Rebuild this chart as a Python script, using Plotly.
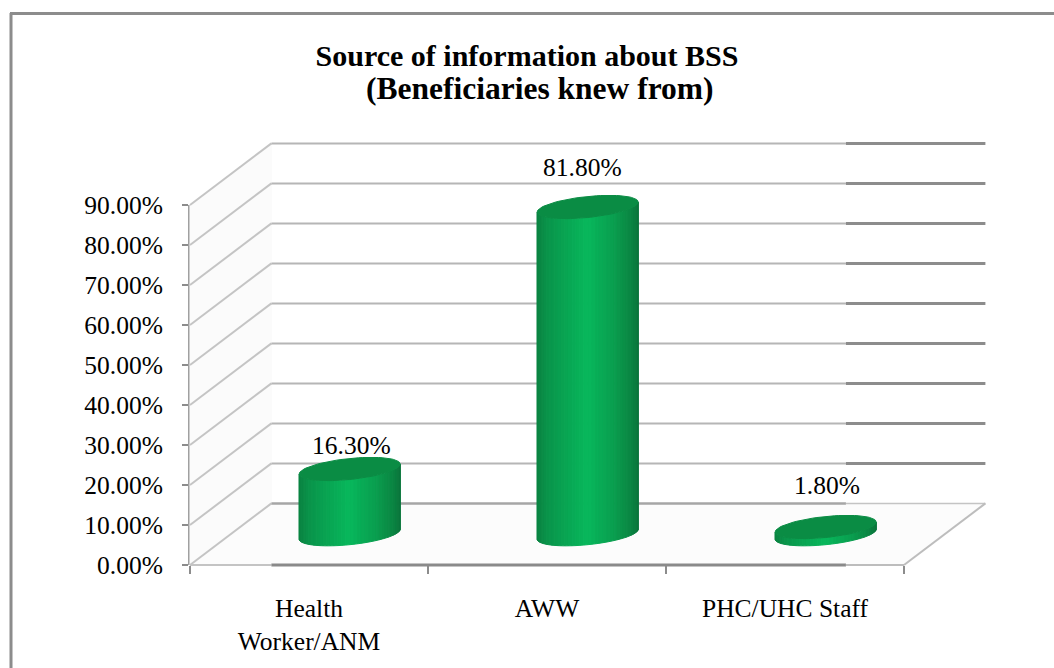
import numpy as np
import plotly.graph_objects as go

categories = ["Health<br>Worker/ANM", "AWW", "PHC/UHC Staff"]
values = [16.3, 81.8, 1.8]
y_ticks = [0, 10, 20, 30, 40, 50, 60, 70, 80, 90]
title_line_1 = "<b>Source of information about BSS</b>"
title_line_2 = "<b>(Beneficiaries knew from)</b>"

W, H = 1054, 668
L, RIGHT, TOP, BOTTOM = 190, 904, 205, 565
FONT = "Liberation Serif"
PXX = (RIGHT - L) / 3.0
PXY = (BOTTOM - TOP) / 90.0
TXT = 25.5

# oblique projection of the 3-D box onto the axes' units
DX, DY = 0.342, 15.4
SPLIT = 2.756  # the source image changes line tone here


def proj(c, v, d):
    return c + d * DX, v + d * DY


fig = go.Figure()

# real axes, carrying the data (invisible marks), ticks and labels
fig.add_trace(go.Scatter(x=[0.5, 1.5, 2.5], y=values, mode="markers", marker=dict(opacity=0),
                         hoverinfo="skip", showlegend=False))


def poly(xs, ys, color):
    fig.add_trace(go.Scatter(x=xs, y=ys, xaxis="x2", yaxis="y2", mode="lines", fill="toself", fillcolor=color,
                             line=dict(color=color, width=1), hoverinfo="skip", showlegend=False))


def line(xs, ys, color, width):
    fig.add_trace(go.Scatter(x=xs, y=ys, xaxis="x2", yaxis="y2", mode="lines",
                             line=dict(color=color, width=width), hoverinfo="skip", showlegend=False))


# walls
a0, a1, a2, a3 = proj(0, 0, 0), proj(0, 0, 1), proj(0, 90, 1), proj(0, 90, 0)
poly([a0[0], a1[0], a2[0], a3[0], a0[0]], [a0[1], a1[1], a2[1], a3[1], a0[1]], "#fbfbfb")
f1, f2 = proj(3, 0, 1), proj(3, 0, 0)
poly([a0[0], a1[0], f1[0], f2[0], a0[0]], [a0[1], a1[1], f1[1], f2[1], a0[1]], "#fcfcfc")

# gridlines: side wall diagonal + back wall horizontal
for v in y_ticks:
    s, e = proj(0, v, 0), proj(0, v, 1)
    line([s[0], e[0]], [s[1], e[1]], "#c4c4c4", 2)
    end = proj(3, v, 1)
    if v == 0:
        line([e[0], SPLIT], [e[1], e[1]], "#a6a6a6", 2.5)
        line([SPLIT, end[0]], [e[1], e[1]], "#c4c4c4", 1.5)
    else:
        line([e[0], SPLIT], [e[1], e[1]], "#b6b6b6", 2)
        line([SPLIT, end[0]], [e[1], e[1]], "#8c8c8c", 3)

# floor edges
e0 = proj(0, 0, 1)[0]
line([0, e0], [0, 0], "#c4c4c4", 2)
line([e0, SPLIT], [0, 0], "#8a8a8a", 3)
line([SPLIT, 3], [0, 0], "#bdbdbd", 2)
s, e = proj(3, 0, 0), proj(3, 0, 1)
line([s[0], e[0]], [s[1], e[1]], "#bdbdbd", 2)

# cylinders
A = 50.5 / PXX
Bb = 10.5 / PXY
K = 5.0 / PXY
stops = [0, 0.12, 0.5, 0.75, 0.92, 1]
cols = np.array([[10, 132, 66], [10, 150, 76], [8, 184, 92], [10, 160, 80], [10, 136, 68], [10, 118, 60]])
N = 40
ts = np.linspace(np.pi, 0, N + 1)


def low(t, level):
    return level + K * np.cos(t) - Bb * np.sin(t)


for i in range(N):
    t0, t1 = ts[i], ts[i + 1]
    xs, ys = [], []
    for c, v in enumerate(values):
        cx, base = proj(c + 0.5, 0, 0.5)
        top = base + v
        px0, px1 = cx + A * np.cos(t0), cx + A * np.cos(t1)
        xs += [px0, px1, px1, px0, px0, None]
        ys += [low(t0, base), low(t1, base), low(t1, top), low(t0, top), low(t0, base), None]
    frac = (np.cos((t0 + t1) / 2) + 1) / 2
    rgb = [int(np.interp(frac, stops, cols[:, k])) for k in range(3)]
    poly(xs, ys, f"rgb({rgb[0]},{rgb[1]},{rgb[2]})")

tt = np.linspace(0, 2 * np.pi, 73)
xs, ys = [], []
for c, v in enumerate(values):
    cx, base = proj(c + 0.5, 0, 0.5)
    xs += list(cx + A * np.cos(tt)) + [None]
    ys += list(base + v + K * np.cos(tt) + Bb * np.sin(tt)) + [None]
poly(xs, ys, "#0a8c44")

# data labels
label_shift = [(2, 24), (-5, 40), (1, 42)]
for c, v in enumerate(values):
    cx, base = proj(c + 0.5, 0, 0.5)
    fig.add_annotation(x=cx, y=base + v, xref="x2", yref="y2", text=f"{v:.2f}%", showarrow=False,
                       xshift=label_shift[c][0], yshift=label_shift[c][1],
                       font=dict(family=FONT, size=TXT, color="#000000"))

# second title line
fig.add_annotation(x=540 / W, y=1 - 88 / H, xref="paper", yref="paper", xanchor="center", yanchor="middle",
                   text=title_line_2, showarrow=False, font=dict(family=FONT, size=31.5, color="#000000"))

# outer frame (top and left only)
frame = dict(color="#8c8c8c", width=3)
fig.add_shape(type="line", xref="paper", yref="paper", x0=10 / W, x1=1, y0=1 - 13.5 / H, y1=1 - 13.5 / H, line=frame)
fig.add_shape(type="line", xref="paper", yref="paper", x0=11 / W, x1=11 / W, y0=1 - 13 / H, y1=0, line=frame)

fig.update_layout(
    width=W, height=H, autosize=False,
    margin=dict(l=0, r=0, t=0, b=0, pad=0, autoexpand=False),
    paper_bgcolor="#ffffff", plot_bgcolor="rgba(0,0,0,0)",
    font=dict(family=FONT, color="#000000"),
    title=dict(text=title_line_1, x=527 / W, xref="paper", xanchor="center", y=1 - 55 / H, yref="container",
               yanchor="middle", font=dict(family=FONT, size=30, color="#000000")),
    showlegend=False,
    xaxis=dict(domain=[L / W, RIGHT / W], range=[0, 3], tickmode="array", tickvals=[0.5, 1.5, 2.5],
               ticktext=categories, ticks="", showgrid=False, zeroline=False, showline=False, automargin=False,
               ticklabelstandoff=25, tickfont=dict(family=FONT, size=TXT, color="#000000"),
               minor=dict(tickmode="array", tickvals=[0, 1, 2, 3], ticks="outside", ticklen=8,
                          tickwidth=2, tickcolor="#8c8c8c", showgrid=False)),
    yaxis=dict(domain=[1 - BOTTOM / H, 1 - TOP / H], range=[0, 90], tickmode="array", tickvals=y_ticks,
               ticktext=[f"{t:.2f}%" for t in y_ticks], automargin=False,
               ticks="outside", ticklen=6, tickwidth=2, tickcolor="#8c8c8c",
               showgrid=False, zeroline=False, showline=True, linecolor="#a0a0a0", linewidth=2,
               ticklabelstandoff=14, tickfont=dict(family=FONT, size=TXT, color="#000000")),
    xaxis2=dict(domain=[0, 1], range=[-L / PXX, (W - L) / PXX], anchor="y2", visible=False, automargin=False),
    yaxis2=dict(domain=[0, 1], range=[-(H - BOTTOM) / PXY, BOTTOM / PXY], anchor="x2", visible=False, automargin=False),
)

fig.write_html("out.html", post_script="document.body.style.margin='0';document.documentElement.style.overflow='hidden';",
               config=dict(displayModeBar=False))
